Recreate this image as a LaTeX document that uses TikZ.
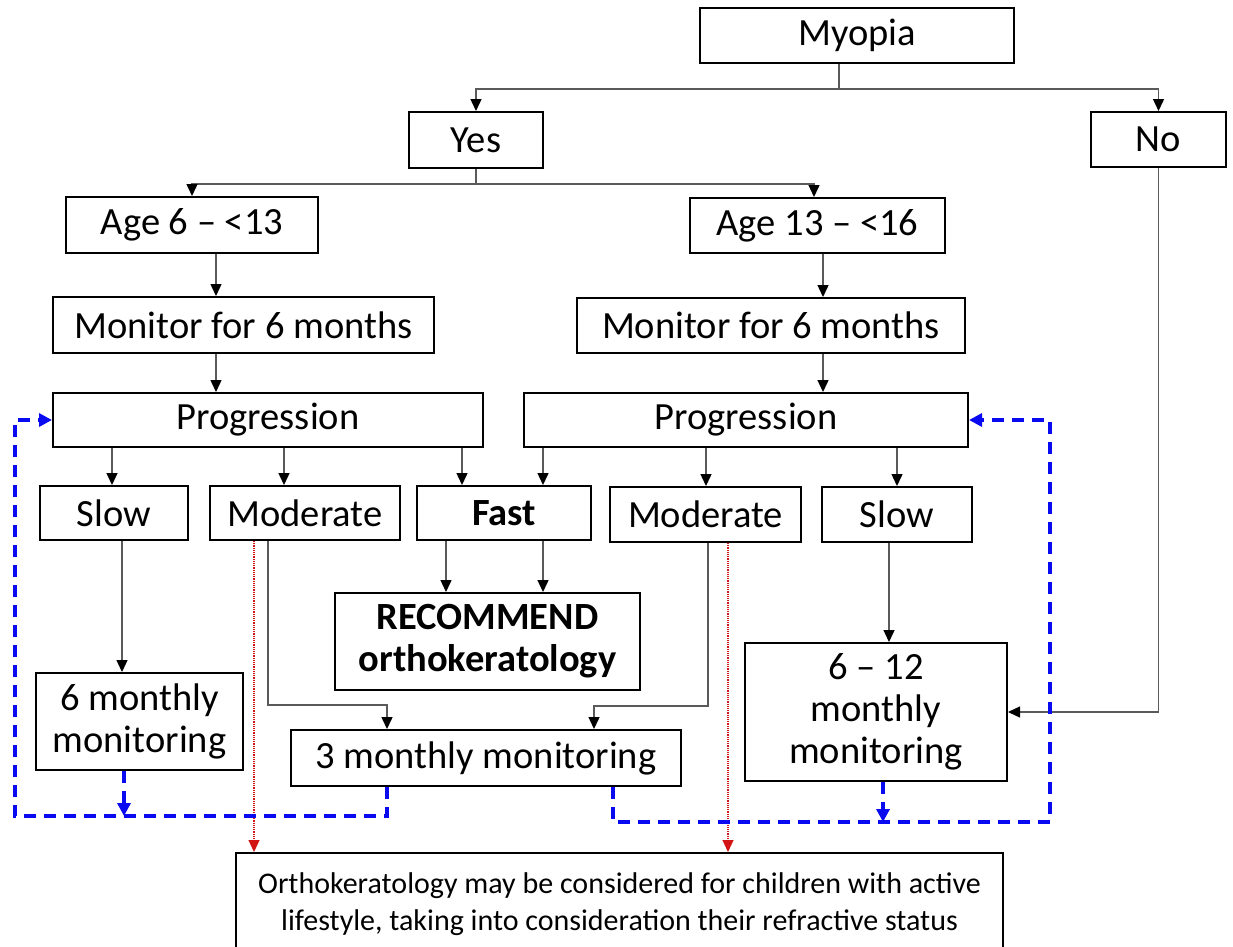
\documentclass[tikz,border=0pt]{standalone}
\usepackage{fontspec}
\setmainfont{Carlito}
\usetikzlibrary{arrows.meta}
\definecolor{dashblue}{RGB}{10,10,240}
\definecolor{dotred}{RGB}{210,20,20}
\definecolor{lineg}{RGB}{90,90,90}
\begin{document}
\begin{tikzpicture}[x=1pt,y=-1pt,
  box/.style={draw=black, line width=2pt, fill=white, inner sep=0pt, align=center,
    text=black, font=\fontsize{38.5}{42}\selectfont},
  conn/.style={draw=lineg, line width=1.4pt, -{Triangle[length=12pt,width=11pt,color=black]}},
  redconn/.style={draw=dotred, line width=1.2pt, densely dotted, -{Triangle[length=12pt,width=11pt,color=dotred]}},
  blueconn/.style={draw=dashblue, line width=3.4pt, dash pattern=on 12pt off 8pt, -{Triangle[length=13pt,width=13pt,color=dashblue]}}
]
\useasboundingbox (0,0) rectangle (1233,946);
\fill[white] (0,0) rectangle (1233,946);

% nodes
\node[box, minimum width=314pt, minimum height=55pt] (myopia) at (857,35.5) {Myopia};
\node[box, minimum width=134pt, minimum height=56pt] (yes) at (476,140) {Yes};
\node[box, minimum width=135pt, minimum height=55pt] (no) at (1158.5,139.5) {No};
\node[box, minimum width=252pt, minimum height=56pt] (ageL) at (192,225) {Age 6 – <13};
\node[box, minimum width=255pt, minimum height=55pt] (ageR) at (817.5,225.5) {Age 13 – <16};
\node[box, minimum width=381pt, minimum height=56pt] (monL) at (243.5,325) {Monitor for 6 months};
\node[box, minimum width=388pt, minimum height=55pt] (monR) at (771,325.5) {Monitor for 6 months};
\node[box, minimum width=430pt, minimum height=54pt] (progL) at (268,420) {Progression};
\node[box, minimum width=444pt, minimum height=54pt] (progR) at (746,420) {Progression};
\node[box, minimum width=148pt, minimum height=54pt] (slowL) at (114,513) {Slow};
\node[box, minimum width=190pt, minimum height=54pt] (modL) at (305,513) {Moderate};
\node[box, minimum width=174pt, minimum height=54pt] (fast) at (504,513) {\bfseries Fast};
\node[box, minimum width=191pt, minimum height=55pt] (modR) at (705.5,514.5) {Moderate};
\node[box, minimum width=150pt, minimum height=55pt] (slowR) at (897,514.5) {Slow};
\node[box, minimum width=305pt, minimum height=97pt] (rec) at (487.5,641.5) {\bfseries RECOMMEND\\\bfseries orthokeratology};
\node[box, minimum width=207pt, minimum height=97pt] (sixm) at (139.5,721.5) {6 monthly\\monitoring};
\node[box, minimum width=390pt, minimum height=56pt] (three) at (486,758) {3 monthly monitoring};
\node[box, minimum width=262pt, minimum height=138pt] (sixtw) at (876,712) {6 – 12\\monthly\\monitoring};
\node[box, anchor=north, minimum width=767pt, minimum height=102pt, font=\fontsize{30}{37}\selectfont] (note) at (619.5,852)
  {Orthokeratology may be considered for children with active\\lifestyle, taking into consideration their refractive status};

% lanes
\coordinate (lMy) at (839,0);
\coordinate (lAR) at (814,0);
\coordinate (lL) at (216,0);
\coordinate (lR) at (823,0);
\coordinate (p1) at (112,0);
\coordinate (p2) at (284,0);
\coordinate (p3) at (462,0);
\coordinate (p4) at (543,0);
\coordinate (p5) at (706,0);
\coordinate (p6) at (897,0);
\coordinate (f1) at (446,0);
\coordinate (s1) at (122,0);
\coordinate (s2) at (889,0);
\coordinate (m1) at (268,0);
\coordinate (m2) at (387,0);
\coordinate (m3) at (708,0);
\coordinate (m4) at (594,0);
\coordinate (r1) at (254,0);
\coordinate (r2) at (728,0);
\coordinate (b1) at (387,0);
\coordinate (b2) at (124,0);
\coordinate (b3) at (613,0);
\coordinate (b4) at (883,0);
\coordinate (bL) at (15,0);
\coordinate (bR) at (1050,0);

% connectors
\draw[conn] (myopia.south -| lMy) -- ++(0,25) -| (yes.north);
\draw[conn] (myopia.south -| lMy) -- ++(0,25) -| (no.north);
\draw[conn] (yes.south) -- ++(0,15) -| (ageL.north);
\draw[conn] (yes.south) -- ++(0,15) -| (ageR.north -| lAR);
\draw[conn] (ageL.south -| lL) -- (monL.north -| lL);
\draw[conn] (monL.south -| lL) -- (progL.north -| lL);
\draw[conn] (ageR.south -| lR) -- (monR.north -| lR);
\draw[conn] (monR.south -| lR) -- (progR.north -| lR);
\draw[conn] (progL.south -| p1) -- (slowL.north -| p1);
\draw[conn] (progL.south -| p2) -- (modL.north -| p2);
\draw[conn] (progL.south -| p3) -- (fast.north -| p3);
\draw[conn] (progR.south -| p4) -- (fast.north -| p4);
\draw[conn] (progR.south -| p5) -- (modR.north -| p5);
\draw[conn] (progR.south -| p6) -- (slowR.north -| p6);
\draw[conn] (fast.south -| f1) -- (rec.north -| f1);
\draw[conn] (fast.south -| p4) -- (rec.north -| p4);
\draw[conn] (slowL.south -| s1) -- (sixm.north -| s1);
\draw[conn] (slowR.south -| s2) -- (sixtw.north -| s2);
\draw[conn] (modL.south -| m1) -- ++(0,164) -| (three.north -| m2);
\draw[conn] (modR.south -| m3) -- ++(0,163) -| (three.north -| m4);
\draw[conn] (no.south) |- (sixtw.east);

\draw[redconn] (modL.south -| r1) -- (note.north -| r1);
\draw[redconn] (modR.south -| r2) -- (note.north -| r2);

\draw[blueconn] (three.south -| b1) -- ++(0,29) -| (progL.west -| bL) -- (progL.west);
\draw[blueconn] (sixm.south -| b2) -- ++(0,45);
\draw[blueconn] (three.south -| b3) -- ++(0,35) -| (progR.east -| bR) -- (progR.east);
\draw[blueconn] (sixtw.south -| b4) -- ++(0,40);
\end{tikzpicture}
\end{document}
